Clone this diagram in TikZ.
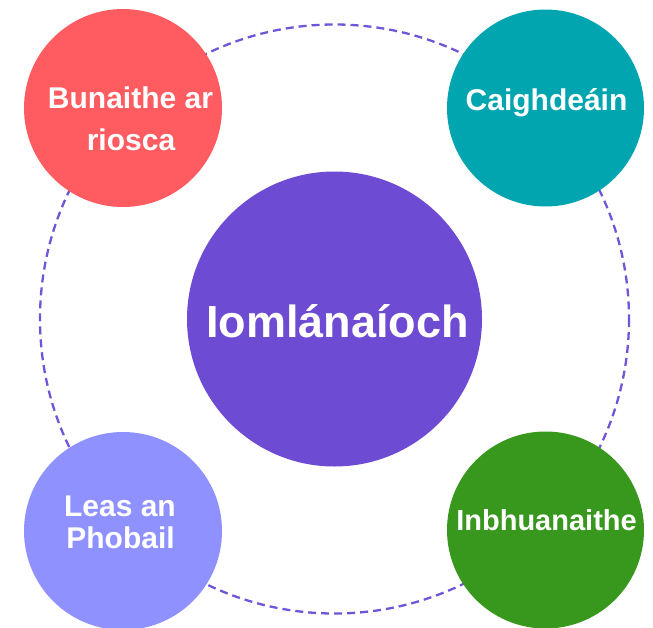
\documentclass[tikz,border=0pt]{standalone}
\usepackage{fontspec}
\setmainfont{Liberation Sans}
\definecolor{cRed}{HTML}{FF5C61}
\definecolor{cTeal}{HTML}{00A5B0}
\definecolor{cPurple}{HTML}{6E4BD3}
\definecolor{cPeri}{HTML}{8F91FF}
\definecolor{cGreen}{HTML}{38981D}
\definecolor{cDash}{HTML}{7055D8}
\tikzset{
  bubble/.style={circle, inner sep=0pt, draw=none},
  lbl/.style={anchor=base, text=white, font=\bfseries\fontsize{30}{36}\selectfont, inner sep=0pt},
  biglbl/.style={anchor=base, text=white, font=\bfseries\fontsize{45}{54}\selectfont, inner sep=0pt},
  ring/.style={draw=cDash, line width=2.3pt, dash pattern=on 8pt off 5pt}
}
\begin{document}
\begin{tikzpicture}[x=1pt,y=-1pt]
\useasboundingbox (0,0) rectangle (653,627);
\coordinate (ctr) at (334.5,319);
\draw[ring] (ctr) circle[radius=294.5];
\node[bubble, fill=cPurple, minimum size=295pt] (main) at (334.5,319) {};
\node[bubble, fill=cRed, minimum size=198pt] (risk) at (123,108) {};
\node[bubble, fill=cTeal, minimum size=197pt] (std) at (545.5,108) {};
\node[bubble, fill=cPeri, minimum size=198pt] (pub) at (123,531) {};
\node[bubble, fill=cGreen, minimum size=197pt] (sus) at (545.5,530) {};
\node[biglbl] (tmain) at (337.5,337) {Iomlánaíoch};
\node[lbl] (trisk1) at (130.5,108) {Bunaithe ar};
\node[lbl] (trisk2) at (131,150) {riosca};
\node[lbl] (tstd) at (546.5,110) {Caighdeáin};
\node[lbl] (tpub1) at (120,516) {Leas an};
\node[lbl] (tpub2) at (120.5,548) {Phobail};
\node[lbl, font=\bfseries\fontsize{29}{35}\selectfont] (tsus) at (546.5,530) {Inbhuanaithe};
\end{tikzpicture}
\end{document}
